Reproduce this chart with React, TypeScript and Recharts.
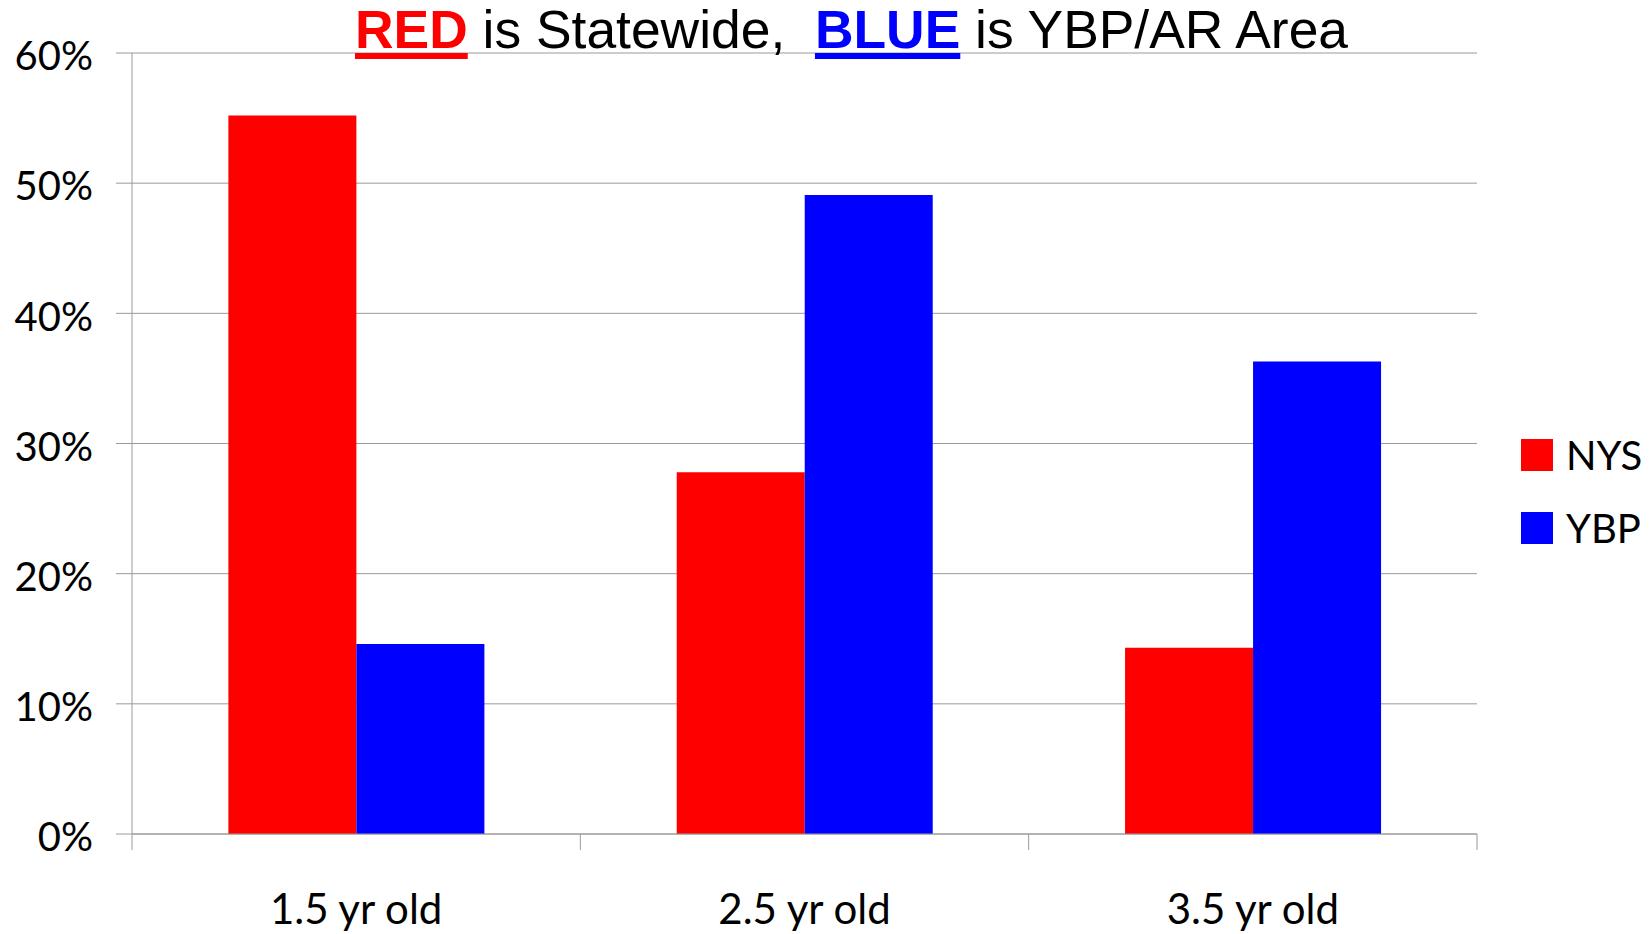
import { BarChart, Bar, XAxis, YAxis, CartesianGrid } from "recharts";

const categories = ["1.5 yr old", "2.5 yr old", "3.5 yr old"];
const nysValues = [55.2, 27.8, 14.3];
const ybpValues = [14.6, 49.1, 36.3];
const yTicks = [0, 10, 20, 30, 40, 50, 60];

const series = [
  { key: "NYS", color: "#ff0000", values: nysValues },
  { key: "YBP", color: "#0000ff", values: ybpValues },
];

const data = categories.map((name, i) => ({
  name,
  NYS: nysValues[i],
  YBP: ybpValues[i],
}));

const W = 1652;
const H = 934;
const MARGIN = { top: 53, right: 175, bottom: 0, left: 0 };
const Y_AXIS_W = 132;
const X_AXIS_H = 100;
const GRID = "#9a9a9a";
const FONT = "Lato, 'Open Sans', sans-serif";

const band = (W - MARGIN.left - MARGIN.right - Y_AXIS_W) / categories.length;

// Excel style: tick marks sit between categories, labels in the middle
function CategoryTick(props: any) {
  const { x, y, payload, index } = props;
  const left = x - band / 2;
  return (
    <g>
      <line x1={left} x2={left} y1={y} y2={y + 16} stroke={GRID} />
      {index === categories.length - 1 && (
        <line x1={left + band} x2={left + band} y1={y} y2={y + 16} stroke={GRID} />
      )}
      <text
        x={x}
        y={y + 90}
        textAnchor="middle"
        fontFamily={FONT}
        fontSize={42}
        fill="#000"
      >
        {payload.value}
      </text>
    </g>
  );
}

function PercentTick(props: any) {
  const { x, y, payload } = props;
  return (
    <text
      x={x}
      y={y + 3}
      dy="0.355em"
      textAnchor="end"
      fontFamily={FONT}
      fontSize={40}
      fill="#000"
    >
      {`${payload.value}%`}
    </text>
  );
}

export default function App() {
  return (
    <div
      style={{
        position: "absolute",
        left: 0,
        top: 0,
        width: W,
        height: H,
        background: "#fff",
      }}
    >
      <div
        style={{
          position: "absolute",
          left: 355,
          top: 3,
          fontFamily: "'Liberation Sans', Arial, sans-serif",
          fontSize: 53.4,
          lineHeight: "54px",
          whiteSpace: "pre",
          color: "#000",
          zIndex: 2,
        }}
      >
        <span
          style={{
            color: "#ff0000",
            fontWeight: "bold",
            textDecoration: "underline",
            textDecorationThickness: 6,
            textUnderlineOffset: 5,
          }}
        >
          RED
        </span>
        {" is Statewide,  "}
        <span
          style={{
            color: "#0000ff",
            fontWeight: "bold",
            textDecoration: "underline",
            textDecorationThickness: 6,
            textUnderlineOffset: 5,
          }}
        >
          BLUE
        </span>
        {" is YBP/AR Area"}
      </div>

      <BarChart
        width={W}
        height={H}
        data={data}
        margin={MARGIN}
        barCategoryGap="21.5%"
        barGap={0}
      >
        <CartesianGrid vertical={false} stroke={GRID} />
        <XAxis
          dataKey="name"
          height={X_AXIS_H}
          axisLine={{ stroke: GRID }}
          tickLine={false}
          tickSize={0}
          tickMargin={0}
          tick={<CategoryTick />}
          interval={0}
        />
        <YAxis
          width={Y_AXIS_W}
          domain={[0, 60]}
          ticks={yTicks}
          axisLine={{ stroke: GRID }}
          tickLine={{ stroke: GRID }}
          tickSize={16}
          tickMargin={23}
          tick={<PercentTick />}
        />
        {series.map((s) => (
          <Bar
            key={s.key}
            dataKey={s.key}
            fill={s.color}
            isAnimationActive={false}
          />
        ))}
      </BarChart>

      <div style={{ position: "absolute", left: 1521, top: 439 }}>
        {series.map((s, i) => (
          <div
            key={s.key}
            style={{
              position: "absolute",
              left: 0,
              top: i * 73,
              display: "flex",
              alignItems: "center",
              height: 32,
              whiteSpace: "nowrap",
            }}
          >
            <div style={{ width: 32, height: 32, background: s.color }} />
            <span
              style={{
                marginLeft: 13,
                fontFamily: FONT,
                fontSize: 40,
                lineHeight: "32px",
                color: "#000",
              }}
            >
              {s.key}
            </span>
          </div>
        ))}
      </div>
    </div>
  );
}
